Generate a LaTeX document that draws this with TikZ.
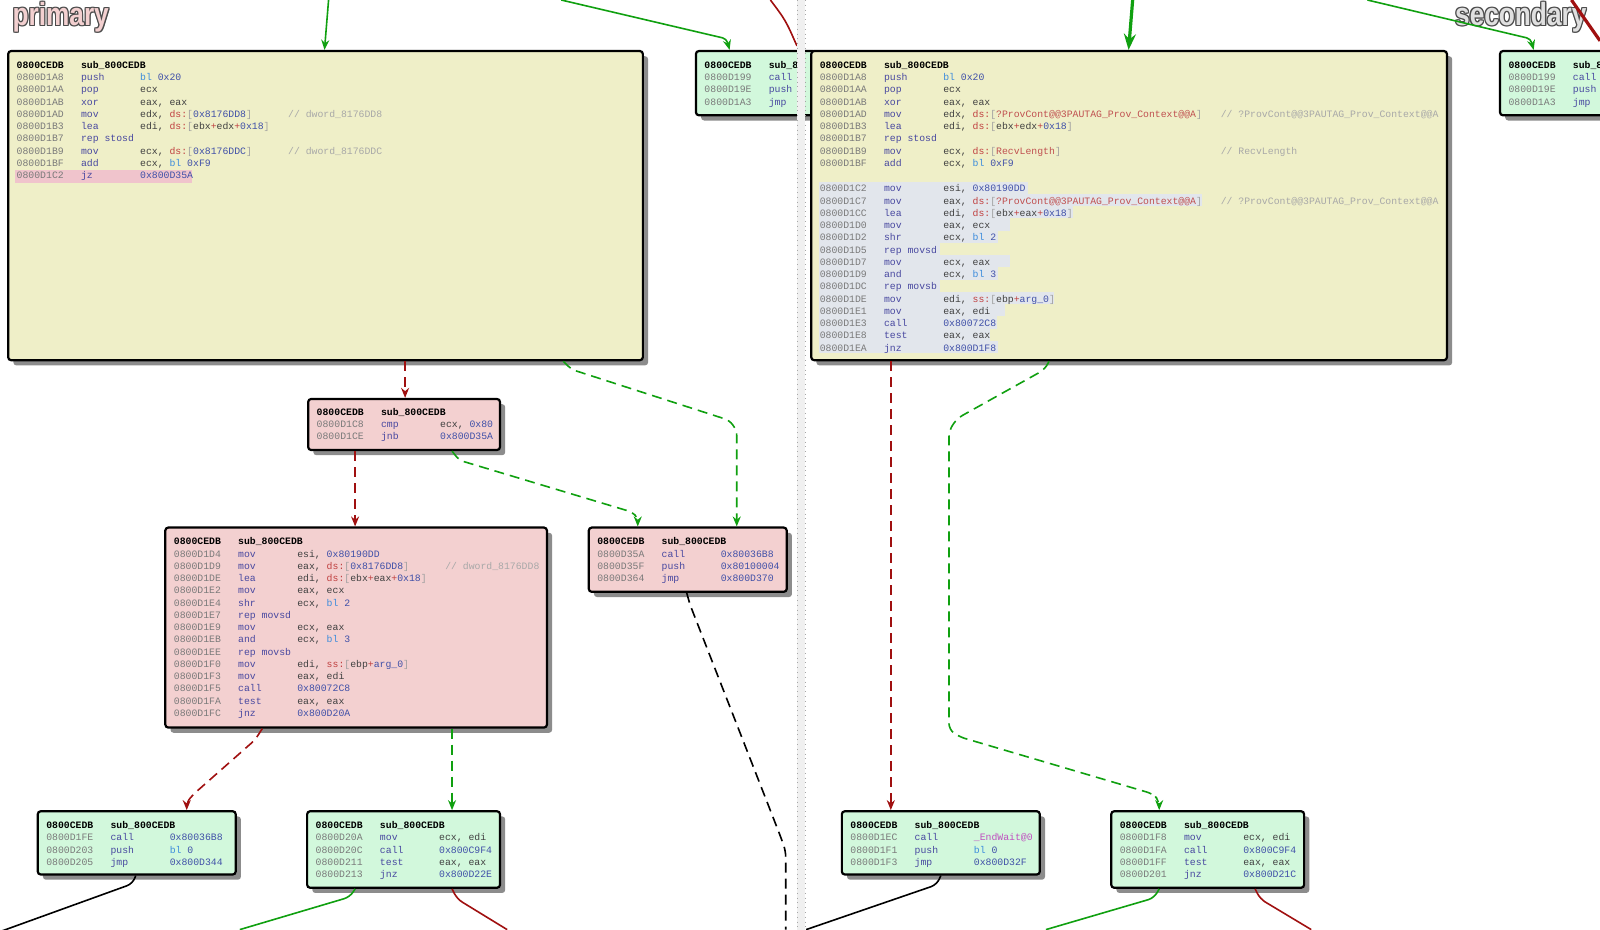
\documentclass[tikz,border=0pt]{standalone}
\usepackage{fontspec}
\newfontfamily\mono{Liberation Mono}
\newfontfamily\ttl{Liberation Sans}
\usetikzlibrary{shadows,arrows.meta}
\definecolor{addr}{HTML}{7A7A7A}
\definecolor{mn}{HTML}{4848A0}
\definecolor{op}{HTML}{404040}
\definecolor{numc}{HTML}{4050A8}
\definecolor{blc}{HTML}{3C8CDC}
\definecolor{dsc}{HTML}{C04040}
\definecolor{brk}{HTML}{A0A0A0}
\definecolor{cmt}{HTML}{A8A8A8}
\definecolor{sym}{HTML}{C05050}
\definecolor{sym2}{HTML}{C050C0}
\definecolor{yel}{HTML}{EFEFC8}
\definecolor{pnk}{HTML}{F3D0D0}
\definecolor{grn}{HTML}{D2F8DC}
\definecolor{hlp}{HTML}{F0C4CC}
\definecolor{hlb}{HTML}{E2E6EC}
\definecolor{eg}{HTML}{10A010}
\definecolor{er}{HTML}{A01010}
\newcommand\aB{\textcolor{blc}{bl}}
\newcommand\aN[1]{\textcolor{numc}{#1}}
\newcommand\aD[1]{\textcolor{dsc}{#1:}}
\newcommand\aK[1]{\textcolor{brk}{[}#1\textcolor{brk}{]}}
\newcommand\aP{\textcolor{dsc}{+}}
\newcommand\aS[1]{\textcolor{sym}{#1}}
\newcommand\aR[5]{%
 \node[t,text=addr] at ({#1+8},{#2}) {#3};
 \node[t,text=mn] at ({#1+71},{#2}) {#4};
 \node[t,text=op] at ({#1+129},{#2}) {#5};}
\newcommand\aH[2]{%
 \node[t,font=\mono\bfseries\fontsize{4.9}{5}\selectfont] at ({#1+8},{#2}) {0800CEDB};
 \node[t,font=\mono\bfseries\fontsize{4.9}{5}\selectfont] at ({#1+71},{#2}) {sub\_800CEDB};}
\newcommand\aC[3]{\node[t,text=cmt] at (#1,#2) {#3};}
\newcommand\bx[6]{\node[box,fill=#6,minimum width={(#4-#2)*0.5102pt},minimum height={(#5-#3)*0.5102pt}] (#1) at ({(#2+#4)/2},{(#3+#5)/2}) {};}
\begin{document}
\begin{tikzpicture}[x=0.5102pt,y=-0.5102pt,
 t/.style={anchor=base west,inner sep=0,font=\mono\fontsize{4.9}{5}\selectfont},
 box/.style={draw=black,line width=1.1pt,rounded corners=1.5pt,inner sep=0,
   drop shadow={shadow xshift=2.6pt,shadow yshift=-2.6pt,fill=black!45,opacity=1}},
 eg/.style={draw=eg,line width=0.8pt,-{Stealth[length=5pt,width=4pt]}},
 er/.style={draw=er,line width=0.8pt,-{Stealth[length=5pt,width=4pt]}},
 dsh/.style={dash pattern=on 5pt off 3pt}]
\useasboundingbox (0,0) rectangle (1568,911);
\fill[white] (0,0) rectangle (1568,911);
% titles
\foreach \dx/\dy in {-1/0,1/0,0/-1,0/1,-1/-1,1/1,-1/1,1/-1}{
 \node[anchor=west,inner sep=0,font=\ttl\bfseries\fontsize{16}{17}\selectfont,text=black!70,xscale=0.82] at ({12+\dx},{17+\dy}) {primary};
 \node[anchor=east,inner sep=0,font=\ttl\bfseries\fontsize{16}{17}\selectfont,text=black!70,xscale=0.82] at ({1555+\dx},{17+\dy}) {secondary};}
\node (tp) [anchor=west,inner sep=0,font=\ttl\bfseries\fontsize{16}{17}\selectfont,text=pnk,xscale=0.82] at (12,17) {primary};
\node (ts) [anchor=east,inner sep=0,font=\ttl\bfseries\fontsize{16}{17}\selectfont,text=black!12,xscale=0.82] at (1555,17) {secondary};
% boxes
\bx{L1}{8}{50}{630}{353}{yel}
\bx{L2}{682}{50}{800}{113}{grn}
\bx{P1}{302}{391}{490}{441}{pnk}
\bx{P2}{162}{517}{536}{713}{pnk}
\bx{P3}{577}{517}{771}{580}{pnk}
\bx{G1}{37}{795}{231}{857}{grn}
\bx{G2}{301}{795}{490}{870}{grn}
\bx{R1}{795}{50}{1418}{353}{yel}
\bx{R2}{1470}{50}{1600}{113}{grn}
\bx{RG1}{825}{795}{1019}{857}{grn}
\bx{RG2}{1089}{795}{1278}{870}{grn}
% L1 text
\fill[hlp] (15,167) rectangle (188,179);
\aH{8}{67}
\aR{8}{79}{0800D1A8}{push}{\aB{} \aN{0x20}}
\aR{8}{91}{0800D1AA}{pop}{ecx}
\aR{8}{103}{0800D1AB}{xor}{eax, eax}
\aR{8}{115}{0800D1AD}{mov}{edx, \aD{ds}\aK{\aN{0x8176DD8}}}\aC{282}{115}{// dword\_8176DD8}
\aR{8}{127}{0800D1B3}{lea}{edi, \aD{ds}\aK{ebx\aP edx\aP\aN{0x18}}}
\aR{8}{139}{0800D1B7}{rep stosd}{}
\aR{8}{151}{0800D1B9}{mov}{ecx, \aD{ds}\aK{\aN{0x8176DDC}}}\aC{282}{151}{// dword\_8176DDC}
\aR{8}{163}{0800D1BF}{add}{ecx, \aB{} \aN{0xF9}}
\aR{8}{175}{0800D1C2}{jz}{\aN{0x800D35A}}
% L2
\begin{scope}
\clip (600,40) rectangle (781,130);
\aH{682}{67}
\aR{682}{79}{0800D199}{call}{}
\aR{682}{91}{0800D19E}{push}{}
\aR{682}{103}{0800D1A3}{jmp}{}
\end{scope}
% P1
\aH{302}{407}
\aR{302}{419}{0800D1C8}{cmp}{ecx, \aN{0x80}}
\aR{302}{431}{0800D1CE}{jnb}{\aN{0x800D35A}}
% P2
\aH{162}{534}
\aR{162}{546}{0800D1D4}{mov}{esi, \aN{0x80190DD}}
\aR{162}{558}{0800D1D9}{mov}{eax, \aD{ds}\aK{\aN{0x8176DD8}}}\aC{436}{558}{// dword\_8176DD8}
\aR{162}{570}{0800D1DE}{lea}{edi, \aD{ds}\aK{ebx\aP eax\aP\aN{0x18}}}
\aR{162}{582}{0800D1E2}{mov}{eax, ecx}
\aR{162}{594}{0800D1E4}{shr}{ecx, \aB{} \aN{2}}
\aR{162}{606}{0800D1E7}{rep movsd}{}
\aR{162}{618}{0800D1E9}{mov}{ecx, eax}
\aR{162}{630}{0800D1EB}{and}{ecx, \aB{} \aN{3}}
\aR{162}{642}{0800D1EE}{rep movsb}{}
\aR{162}{654}{0800D1F0}{mov}{edi, \aD{ss}\aK{ebp\aP\aN{arg\_0}}}
\aR{162}{666}{0800D1F3}{mov}{eax, edi}
\aR{162}{678}{0800D1F5}{call}{\aN{0x80072C8}}
\aR{162}{690}{0800D1FA}{test}{eax, eax}
\aR{162}{702}{0800D1FC}{jnz}{\aN{0x800D20A}}
% P3
\aH{577}{534}
\aR{577}{546}{0800D35A}{call}{\aN{0x80036B8}}
\aR{577}{558}{0800D35F}{push}{\aN{0x80100004}}
\aR{577}{570}{0800D364}{jmp}{\aN{0x800D370}}
% G1
\aH{37}{812}
\aR{37}{824}{0800D1FE}{call}{\aN{0x80036B8}}
\aR{37}{836}{0800D203}{push}{\aB{} \aN{0}}
\aR{37}{848}{0800D205}{jmp}{\aN{0x800D344}}
% G2
\aH{301}{812}
\aR{301}{824}{0800D20A}{mov}{ecx, edi}
\aR{301}{836}{0800D20C}{call}{\aN{0x800C9F4}}
\aR{301}{848}{0800D211}{test}{eax, eax}
\aR{301}{860}{0800D213}{jnz}{\aN{0x800D22E}}
% R1
\foreach \y/\e in {184/1007,196/1178,208/1052,220/990,232/978,244/921,256/990,268/978,280/921,292/1033,304/985,316/977,328/970,340/978}
 \fill[hlb] (803,{\y-6}) rectangle (\e,{\y+6});
\aH{795}{67}
\aR{795}{79}{0800D1A8}{push}{\aB{} \aN{0x20}}
\aR{795}{91}{0800D1AA}{pop}{ecx}
\aR{795}{103}{0800D1AB}{xor}{eax, eax}
\aR{795}{115}{0800D1AD}{mov}{edx, \aD{ds}\aK{\aS{?ProvCont@@3PAUTAG\_Prov\_Context@@A}}}\aC{1196}{115}{// ?ProvCont@@3PAUTAG\_Prov\_Context@@A}
\aR{795}{127}{0800D1B3}{lea}{edi, \aD{ds}\aK{ebx\aP edx\aP\aN{0x18}}}
\aR{795}{139}{0800D1B7}{rep stosd}{}
\aR{795}{151}{0800D1B9}{mov}{ecx, \aD{ds}\aK{\aS{RecvLength}}}\aC{1196}{151}{// RecvLength}
\aR{795}{163}{0800D1BF}{add}{ecx, \aB{} \aN{0xF9}}
\aR{795}{188}{0800D1C2}{mov}{esi, \aN{0x80190DD}}
\aR{795}{200}{0800D1C7}{mov}{eax, \aD{ds}\aK{\aS{?ProvCont@@3PAUTAG\_Prov\_Context@@A}}}\aC{1196}{200}{// ?ProvCont@@3PAUTAG\_Prov\_Context@@A}
\aR{795}{212}{0800D1CC}{lea}{edi, \aD{ds}\aK{ebx\aP eax\aP\aN{0x18}}}
\aR{795}{224}{0800D1D0}{mov}{eax, ecx}
\aR{795}{236}{0800D1D2}{shr}{ecx, \aB{} \aN{2}}
\aR{795}{248}{0800D1D5}{rep movsd}{}
\aR{795}{260}{0800D1D7}{mov}{ecx, eax}
\aR{795}{272}{0800D1D9}{and}{ecx, \aB{} \aN{3}}
\aR{795}{284}{0800D1DC}{rep movsb}{}
\aR{795}{296}{0800D1DE}{mov}{edi, \aD{ss}\aK{ebp\aP\aN{arg\_0}}}
\aR{795}{308}{0800D1E1}{mov}{eax, edi}
\aR{795}{320}{0800D1E3}{call}{\aN{0x80072C8}}
\aR{795}{332}{0800D1E8}{test}{eax, eax}
\aR{795}{344}{0800D1EA}{jnz}{\aN{0x800D1F8}}
% R2
\begin{scope}
\clip (1400,40) rectangle (1568,130);
\aH{1470}{67}
\aR{1470}{79}{0800D199}{call}{}
\aR{1470}{91}{0800D19E}{push}{}
\aR{1470}{103}{0800D1A3}{jmp}{}
\end{scope}
% RG1
\aH{825}{812}
\aR{825}{824}{0800D1EC}{call}{\textcolor{sym2}{\_EndWait@0}}
\aR{825}{836}{0800D1F1}{push}{\aB{} \aN{0}}
\aR{825}{848}{0800D1F3}{jmp}{\aN{0x800D32F}}
% RG2
\aH{1089}{812}
\aR{1089}{824}{0800D1F8}{mov}{ecx, edi}
\aR{1089}{836}{0800D1FA}{call}{\aN{0x800C9F4}}
\aR{1089}{848}{0800D1FF}{test}{eax, eax}
\aR{1089}{860}{0800D201}{jnz}{\aN{0x800D21C}}
% edges
\coordinate (a0) at (322,0); \coordinate (a1) at (550,0); \coordinate (a2) at (755,0);
\draw[eg] (a0) -- (L1.north -| 318,0);
\draw[eg,rounded corners=2pt] (a1) -- (712,38) -- (L2.north -| 715,0);
\draw[er,-] (a2) .. controls (770,20) .. (781,45);
\draw[er,dsh] (L1.south -| 397,0) -- (P1.north -| 397,0);
\draw[eg,dsh,rounded corners=2.5pt] (L1.south -| 552,0) -- (560,362) -- (715,412) -- (722,422) -- (P3.north -| 722,0);
\draw[er,dsh] (P1.south -| 348,0) -- (P2.north -| 348,0);
\draw[eg,dsh,rounded corners=2.5pt] (P1.south -| 443,0) -- (450,451) -- (620,502) -- (625,508) -- (P3.north -| 625,0);
\draw[er,dsh,rounded corners=2.5pt] (P2.south -| 257,0) -- (250,725) -- (190,778) -- (183,786) -- (G1.north -| 183,0);
\draw[eg,dsh] (P2.south -| 443,0) -- (G2.north -| 443,0);
\coordinate (b0) at (770,911);
\draw[black,line width=0.8pt,dsh,rounded corners=3pt] (P3.south -| 673,0) -- (676,592) -- (765,820) -- (770,834) -- (b0);
\coordinate (b1) at (0,913); \coordinate (b2) at (235,911); \coordinate (b3) at (497,911);
\draw[black,line width=0.8pt,rounded corners=3pt] (G1.south -| 133,0) -- (130,866) -- (b1);
\draw[eg,-,rounded corners=3pt] (G2.south -| 348,0) -- (343,879) -- (b2);
\draw[er,-,rounded corners=3pt] (G2.south -| 443,0) -- (448,881) -- (b3);
\coordinate (c0) at (1110,0); \coordinate (c1) at (1340,0); \coordinate (c2) at (1540,0);
\draw[eg,line width=1.6pt,-{Stealth[length=8pt,width=6pt]}] (c0) -- (R1.north -| 1106,0);
\draw[eg,rounded corners=2pt] (c1) -- (1500,38) -- (R2.north -| 1503,0);
\draw[er,-,line width=1.6pt] (c2) -- (1568,40);
\draw[er,dsh] (R1.south -| 873,0) -- (RG1.north -| 873,0);
\draw[eg,dsh,rounded corners=3pt] (R1.south -| 1028,0) -- (1024,362) -- (938,410) -- (930,422) -- (930,715) -- (940,722) -- (1130,778) -- (1136,785) -- (RG2.north -| 1136,0);
\coordinate (d1) at (790,911); \coordinate (d2) at (1025,911); \coordinate (d3) at (1285,911);
\draw[black,line width=0.8pt,rounded corners=3pt] (RG1.south -| 922,0) -- (918,867) -- (d1);
\draw[eg,-,rounded corners=3pt] (RG2.south -| 1136,0) -- (1131,880) -- (d2);
\draw[er,-,rounded corners=3pt] (RG2.south -| 1230,0) -- (1235,881) -- (d3);
% divider
\fill[black!6] (781,0) rectangle (789,911);
\draw[black!35,dotted] (781,0) -- (781,911) (789,0) -- (789,911);
\end{tikzpicture}
\end{document}
